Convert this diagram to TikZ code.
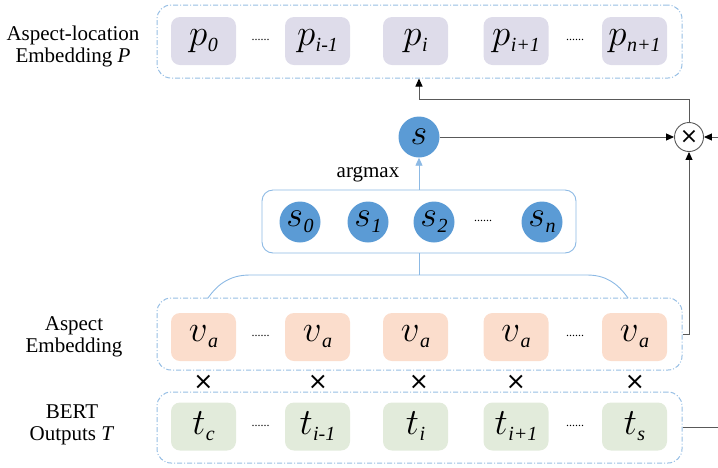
\RequirePackage{fix-cm}
\documentclass[tikz,border=0pt]{standalone}
\usepackage{fontspec}
\setmainfont{Liberation Serif}
\newfontfamily\symfont{DejaVu Sans}
\usetikzlibrary{arrows.meta}

\definecolor{pfill}{RGB}{222,220,234}
\definecolor{vfill}{RGB}{251,221,204}
\definecolor{tfill}{RGB}{226,235,219}
\definecolor{dashblue}{RGB}{150,190,228}
\definecolor{sblue}{RGB}{91,155,213}
\definecolor{lineblue}{RGB}{140,185,228}
\definecolor{linegray}{RGB}{89,89,89}

\newcommand{\elem}[2]{$#1$\kern0.5pt\raisebox{-6pt}{\fontsize{20}{20}\selectfont\itshape #2}}

\begin{document}
\begin{tikzpicture}[x=1pt, y=-1pt, >={Triangle[length=8pt,width=7pt]},
  frame/.style={draw=dashblue, line width=1pt, dash pattern=on 5pt off 2pt on 1pt off 2pt,
    rounded corners=14pt, minimum width=525pt, inner sep=0pt},
  cell/.style={rounded corners=9pt, minimum width=65pt, minimum height=48pt, inner sep=0pt,
    font=\fontsize{37}{37}\selectfont},
  dots/.style={font=\fontsize{12}{12}\selectfont},
  ball/.style={circle, fill=sblue, minimum size=41pt, inner sep=0pt, font=\fontsize{36}{36}\selectfont},
  side/.style={align=center, font=\fontsize{21}{22}\selectfont},
  prod/.style={font=\symfont\fontsize{24}{24}\selectfont},
  conn/.style={draw=linegray, line width=0.9pt, arrows={-Triangle[length=8pt,width=7pt,fill=black,color=black]}},
  bconn/.style={draw=lineblue, line width=0.9pt}]

\useasboundingbox (0,0) rectangle (718,467);

% aspect-location embedding P
\node[frame, minimum height=73pt] (Pframe) at (419.5,41.5) {};
\node[cell, fill=pfill] (p0) at (203.5,41) {\elem{p}{0}};
\node[cell, fill=pfill] (pim) at (317.5,41) {\elem{p}{i-1}};
\node[cell, fill=pfill] (pi) at (415.5,41) {\elem{p}{i}};
\node[cell, fill=pfill] (pip) at (516,41) {\elem{p}{i+1}};
\node[cell, fill=pfill] (pn) at (634.5,41) {\elem{p}{n+1}};
\node[dots] (pd1) at (260.5,40) {......};
\node[dots] (pd2) at (575,40) {......};
\node[side] (Plabel) at (73,46) {Aspect-location\\Embedding \textit{P}};

% aspect embedding
\node[frame, minimum height=72pt] (Vframe) at (419.5,334) {};
\node[cell, fill=vfill] (v1) at (203.5,337) {\elem{v}{a}};
\node[cell, fill=vfill] (v2) at (317.5,337) {\elem{v}{a}};
\node[cell, fill=vfill] (v3) at (415.5,337) {\elem{v}{a}};
\node[cell, fill=vfill] (v4) at (516,337) {\elem{v}{a}};
\node[cell, fill=vfill] (v5) at (634.5,337) {\elem{v}{a}};
\node[dots] (vd1) at (260.5,336) {......};
\node[dots] (vd2) at (575,336) {......};
\node[side] (Vlabel) at (74,337) {Aspect\\Embedding};

% products
\node[prod] (x1) at (203.5,382) {×};
\node[prod] (x2) at (318,382) {×};
\node[prod] (x3) at (419,382) {×};
\node[prod] (x4) at (516,382) {×};
\node[prod] (x5) at (635,382) {×};

% BERT outputs T
\node[frame, minimum height=71pt] (Tframe) at (419.5,427.5) {};
\node[cell, fill=tfill] (t1) at (203.5,426.5) {\elem{t}{c}};
\node[cell, fill=tfill] (t2) at (317.5,426.5) {\elem{t}{i-1}};
\node[cell, fill=tfill] (t3) at (415.5,426.5) {\elem{t}{i}};
\node[cell, fill=tfill] (t4) at (516,426.5) {\elem{t}{i+1}};
\node[cell, fill=tfill] (t5) at (634.5,426.5) {\elem{t}{s}};
\node[dots] (td1) at (260.5,426) {......};
\node[dots] (td2) at (575,426) {......};
\node[side] (Tlabel) at (72,425) {BERT\\Outputs \textit{T}};

% scores
\node[draw=lineblue, line width=0.9pt, rounded corners=11pt, minimum width=314pt,
  minimum height=63pt] (Sframe) at (419,221.5) {};
\node[ball] (s0) at (300,222) {\elem{s}{0}};
\node[ball] (s1) at (368,222) {\elem{s}{1}};
\node[ball] (s2) at (434,222) {\elem{s}{2}};
\node[dots] (sd) at (483,221) {......};
\node[ball] (sn) at (542,222) {\elem{s}{n}};
\node[ball] (s) at (419,137) {$s$};
\node[font=\fontsize{21}{21}\selectfont] (amax) at (368,174) {argmax};
\node[circle, draw=linegray, line width=0.9pt, minimum size=29pt, inner sep=0pt,
  font=\symfont\fontsize{22}{22}\selectfont] (mul) at (689,137) {×};

\coordinate (brL) at (208,298);
\coordinate (brR) at (628,298);
\coordinate (brM) at (419,275);
\coordinate (turn) at (419,99);
\coordinate (tout) at (718,427.5);
\coordinate (min) at (718,137);

\draw[bconn] (brL) to[out=55,in=180] (250,275) -- (587,275) to[out=0,in=125] (brR);
\draw[bconn] (Sframe.south) -- (brM);
\draw[bconn, ->] (Sframe.north) -- (s.south);

\draw[conn] (s.east) -- (mul.west);
\draw[conn] (min) -- (mul.east);
\draw[conn] (Vframe.east) -| (mul.south);
\draw[conn] (mul.north) |- (turn) -- (turn |- Pframe.south);
\draw[conn, arrows=-] (Tframe.east) -- (tout);

\end{tikzpicture}
\end{document}
